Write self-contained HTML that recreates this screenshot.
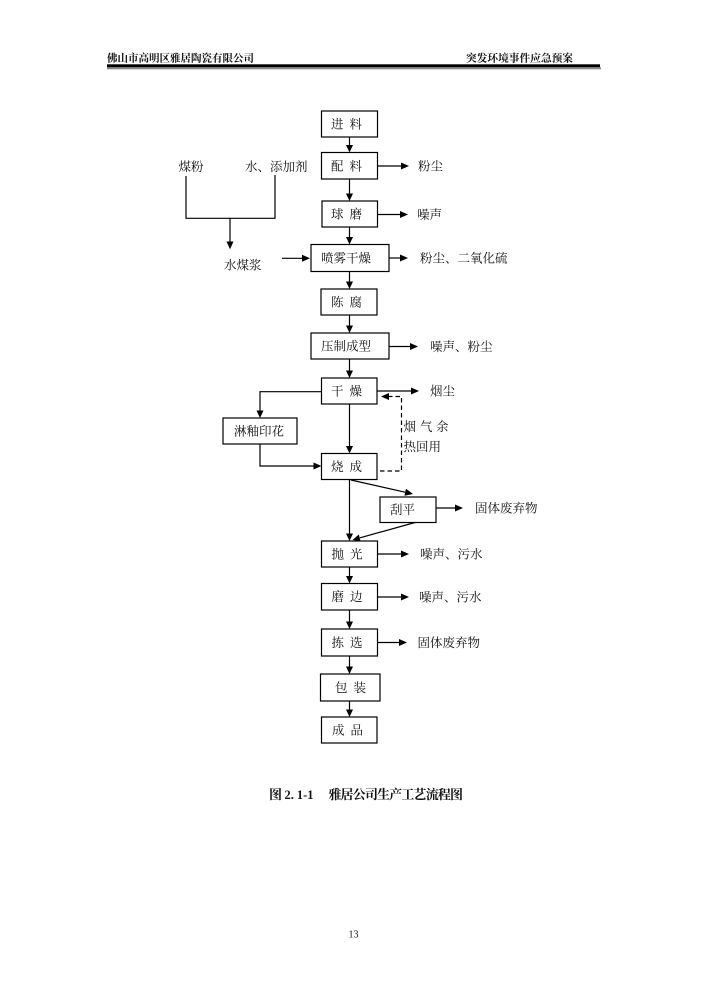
<!DOCTYPE html>
<html>
<head>
<meta charset="utf-8">
<style>
html,body{margin:0;padding:0;background:#fff;}
svg{display:block;}
text{font-family:"Liberation Serif","Noto Serif CJK SC",serif;fill:#111;}
.t{font-size:12.5px;}
.h{font-size:10.5px;font-weight:bold;}
.c{font-size:13px;font-weight:bold;}
</style>
</head>
<body>
<svg width="707" height="1000" viewBox="0 0 707 1000" xmlns="http://www.w3.org/2000/svg">
<rect x="0" y="0" width="707" height="1000" fill="#fff"/>

<!-- Header -->
<text class="h" x="107" y="61.5">佛山市高明区雅居陶瓷有限公司</text>
<text class="h" x="466" y="61.5" textLength="107" lengthAdjust="spacingAndGlyphs">突发环境事件应急预案</text>
<rect x="107" y="64.3" width="493" height="3" fill="#000"/>
<rect x="107" y="67.3" width="494" height="2" fill="#888"/>

<g stroke="#000" stroke-width="1.2" fill="none">
  <!-- boxes -->
  <rect x="321.5" y="111" width="56" height="26"/>
  <rect x="321.5" y="152.5" width="56" height="26.5"/>
  <rect x="322" y="201" width="55.5" height="26"/>
  <rect x="311" y="244.5" width="78" height="27"/>
  <rect x="321" y="289" width="56" height="26"/>
  <rect x="311" y="333" width="78" height="26"/>
  <rect x="321.5" y="378" width="55.5" height="26"/>
  <rect x="223" y="418" width="74" height="26"/>
  <rect x="321.5" y="453.5" width="55.5" height="26"/>
  <rect x="380" y="497" width="56" height="25.5"/>
  <rect x="321.5" y="541" width="56" height="26"/>
  <rect x="321.5" y="583.5" width="56" height="26.5"/>
  <rect x="321.5" y="629" width="56" height="27"/>
  <rect x="320.5" y="674" width="59.5" height="27"/>
  <rect x="321.5" y="717" width="55.5" height="26"/>

  <!-- main vertical lines -->
  <line x1="349.5" y1="137" x2="349.5" y2="146"/>
  <line x1="349.5" y1="179" x2="349.5" y2="194"/>
  <line x1="349.5" y1="227" x2="349.5" y2="238"/>
  <line x1="349.5" y1="271.5" x2="349.5" y2="282"/>
  <line x1="349.5" y1="315" x2="349.5" y2="326"/>
  <line x1="349.5" y1="359" x2="349.5" y2="371"/>
  <line x1="349.5" y1="404" x2="349.5" y2="446"/>
  <line x1="349.5" y1="479.5" x2="349.5" y2="534"/>
  <line x1="349.5" y1="567" x2="349.5" y2="576"/>
  <line x1="349.5" y1="610" x2="349.5" y2="622"/>
  <line x1="349.5" y1="656" x2="349.5" y2="667"/>
  <line x1="349.5" y1="701" x2="349.5" y2="710"/>

  <!-- right arrows lines -->
  <line x1="377.5" y1="166" x2="402" y2="166"/>
  <line x1="377.5" y1="214.5" x2="401" y2="214.5"/>
  <line x1="389" y1="258" x2="401" y2="258"/>
  <line x1="389" y1="346.5" x2="411" y2="346.5"/>
  <line x1="377" y1="391" x2="412" y2="391"/>
  <line x1="436" y1="508" x2="456" y2="508"/>
  <line x1="377.5" y1="554" x2="402" y2="554"/>
  <line x1="377.5" y1="597" x2="402" y2="597"/>
  <line x1="377.5" y1="642.5" x2="400" y2="642.5"/>

  <!-- left inputs -->
  <polyline points="186,176 186,218.3 275,218.3 275,175"/>
  <line x1="230" y1="218.3" x2="230" y2="242"/>
  <line x1="282" y1="258.3" x2="303" y2="258.3"/>

  <!-- glaze branch -->
  <polyline points="321.5,391.7 260,391.7 260,411"/>
  <polyline points="260,444 260,466 314,466"/>

  <!-- diagonals -->
  <line x1="351" y1="480" x2="406" y2="492.4"/>
  <line x1="415" y1="522.5" x2="360" y2="537.8"/>
</g>

<!-- dashed feedback -->
<g stroke="#000" stroke-width="1.2" fill="none" stroke-dasharray="4.5,3">
  <polyline points="380,471 401.5,471 401.5,396.5 388,396.5"/>
</g>

<!-- arrowheads -->
<g fill="#000" stroke="none">
  <!-- down -->
  <polygon points="346,145 353,145 349.5,152.5"/>
  <polygon points="346,193.5 353,193.5 349.5,201"/>
  <polygon points="346,237 353,237 349.5,244.5"/>
  <polygon points="346,281.5 353,281.5 349.5,289"/>
  <polygon points="346,325.5 353,325.5 349.5,333"/>
  <polygon points="346,370.5 353,370.5 349.5,378"/>
  <polygon points="346,446 353,446 349.5,453.5"/>
  <polygon points="346,533.5 353,533.5 349.5,541"/>
  <polygon points="346,576 353,576 349.5,583.5"/>
  <polygon points="346,621.5 353,621.5 349.5,629"/>
  <polygon points="346,666.5 353,666.5 349.5,674"/>
  <polygon points="346,709.5 353,709.5 349.5,717"/>
  <polygon points="226.5,241.5 233.5,241.5 230,249.3"/>
  <polygon points="256.5,410.5 263.5,410.5 260,418"/>
  <!-- right -->
  <polygon points="401,162.5 401,169.5 409,166"/>
  <polygon points="400,211 400,218 408,214.5"/>
  <polygon points="400,254.5 400,261.5 408,258"/>
  <polygon points="410,343 410,350 418,346.5"/>
  <polygon points="411,387.5 411,394.5 419,391"/>
  <polygon points="455,504.5 455,511.5 463,508"/>
  <polygon points="401,550.5 401,557.5 409,554"/>
  <polygon points="401,593.5 401,600.5 409,597"/>
  <polygon points="399,639 399,646 407,642.5"/>
  <polygon points="302,254.8 302,261.8 310,258.3"/>
  <polygon points="313.5,462.5 313.5,469.5 321.5,466"/>
  <!-- left (dashed return) -->
  <polygon points="389,393 389,400 381,396.5"/>
  <!-- diagonals -->
  <polygon points="404.4,495.7 406,488.8 413,494"/>
  <polygon points="358.8,534.5 360.6,541.2 352.5,540"/>
</g>

<!-- box labels -->
<text class="t" y="128.5"><tspan x="331">进</tspan><tspan x="349.5">料</tspan></text>
<text class="t" y="170.3"><tspan x="331">配</tspan><tspan x="349.5">料</tspan></text>
<text class="t" y="218.5"><tspan x="331">球</tspan><tspan x="349.5">磨</tspan></text>
<text class="t" x="321" y="262.5">喷雾干燥</text>
<text class="t" y="306.5"><tspan x="331">陈</tspan><tspan x="349.5">腐</tspan></text>
<text class="t" x="321" y="350.5">压制成型</text>
<text class="t" y="395.5"><tspan x="331">干</tspan><tspan x="349.5">燥</tspan></text>
<text class="t" x="234" y="435.5">淋釉印花</text>
<text class="t" y="471"><tspan x="331">烧</tspan><tspan x="349.5">成</tspan></text>
<text class="t" x="390" y="514">刮平</text>
<text class="t" y="558.5"><tspan x="331.5">抛</tspan><tspan x="350">光</tspan></text>
<text class="t" y="601.2"><tspan x="331.5">磨</tspan><tspan x="350">边</tspan></text>
<text class="t" y="647"><tspan x="331.5">拣</tspan><tspan x="350">选</tspan></text>
<text class="t" y="692"><tspan x="335">包</tspan><tspan x="353.5">装</tspan></text>
<text class="t" y="734.5"><tspan x="332">成</tspan><tspan x="350.5">品</tspan></text>

<!-- side labels -->
<text class="t" x="418" y="170.5">粉尘</text>
<text class="t" x="417" y="219">噪声</text>
<text class="t" x="420" y="262.5">粉尘、二氧化硫</text>
<text class="t" x="430" y="351">噪声、粉尘</text>
<text class="t" x="430" y="395.5">烟尘</text>
<text class="t" x="475" y="512.5">固体废弃物</text>
<text class="t" x="420" y="558.5">噪声、污水</text>
<text class="t" x="419" y="601.5">噪声、污水</text>
<text class="t" x="417.5" y="647">固体废弃物</text>

<text class="t" x="178.5" y="171.2">煤粉</text>
<text class="t" x="245" y="171.2">水、添加剂</text>
<text class="t" x="224" y="269.5">水煤浆</text>

<text class="t" y="431"><tspan x="403.5">烟</tspan><tspan x="420">气</tspan><tspan x="436">余</tspan></text>
<text class="t" x="403.5" y="451">热回用</text>

<!-- caption -->
<text class="c" x="269" y="799">图</text>
<text class="c" x="284.5" y="799" textLength="29" lengthAdjust="spacingAndGlyphs">2. 1-1</text>
<text class="c" x="328.5" y="799" textLength="134.5" lengthAdjust="spacing">雅居公司生产工艺流程图</text>

<!-- page number -->
<text x="348.5" y="937.3" style="font-size:10px;font-family:'Liberation Serif',serif;">13</text>
</svg>
</body>
</html>
